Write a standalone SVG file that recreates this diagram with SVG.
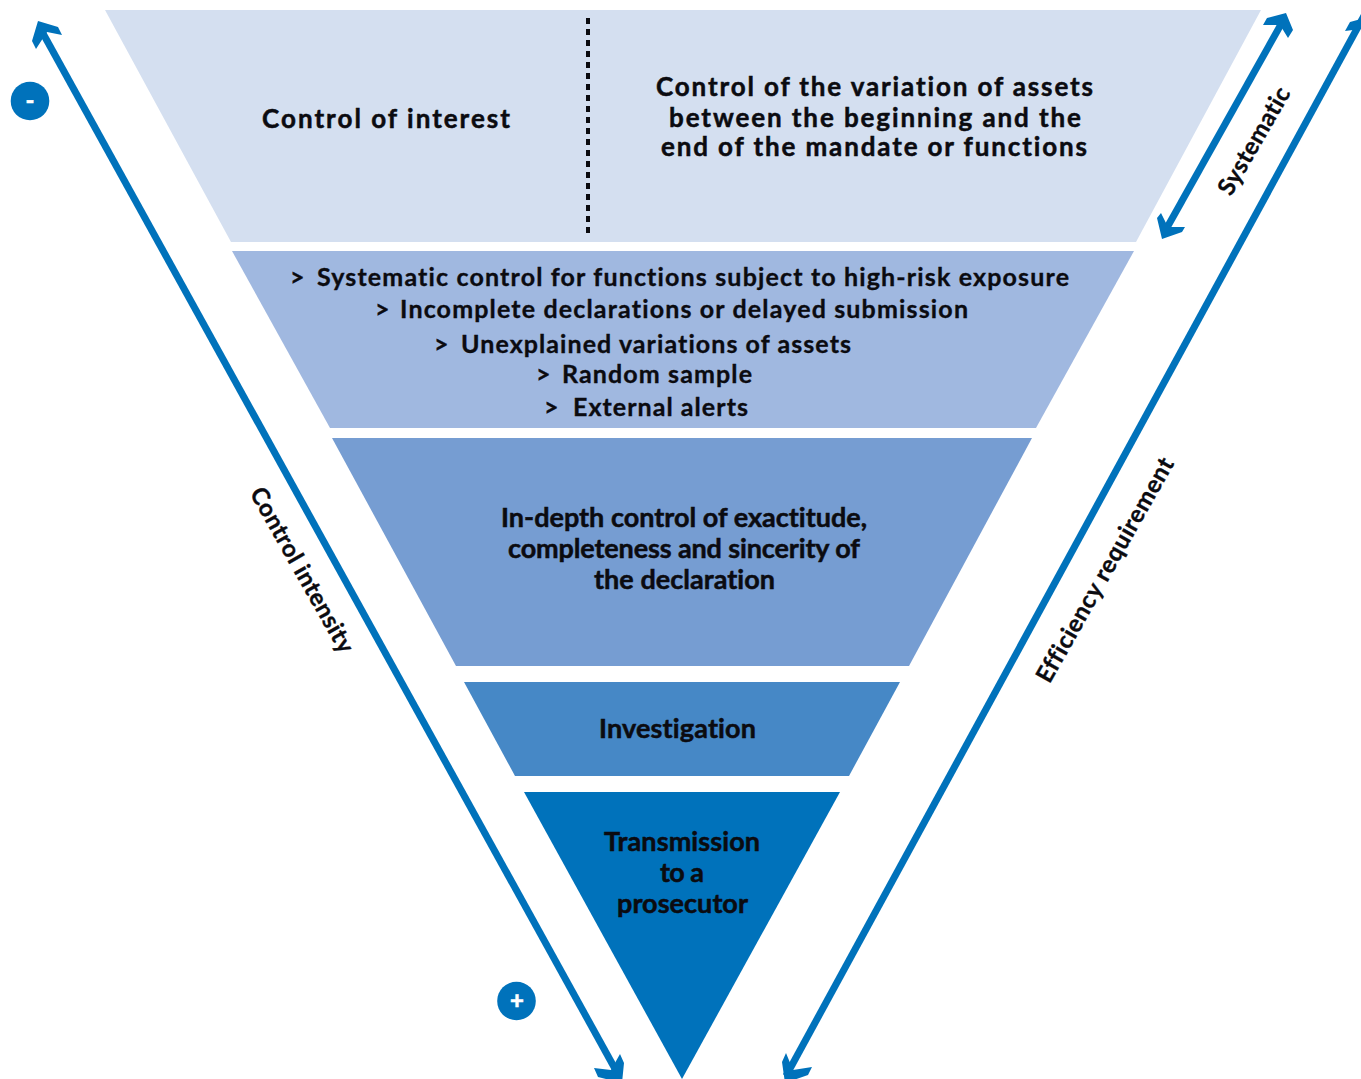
<svg xmlns="http://www.w3.org/2000/svg" width="1361" height="1079" viewBox="0 0 1361 1079">
<style>
text{font-family:Lato,"Liberation Sans",sans-serif;font-weight:700;font-size:26px;fill:#0b0b10;stroke:#0b0b10;stroke-width:.5px;font-variant-ligatures:none}
.t2{font-size:25px;stroke-width:.35px}
.m{font-size:27px}
.c{text-anchor:middle}
.l{fill:none;stroke:#0072bb;stroke-width:7}
.b{fill:#0072bb}
.r{font-size:24px;stroke-width:.35px}
.w{font-size:24px;font-weight:900;fill:#fff;stroke:#fff}
</style>
<rect width="1361" height="1079" fill="#fff"/>
<g id="tier-1"><polygon points="105,10 1261,10 1136,242 231,242" fill="#d4dff0"/>
<line x1="588" y1="18" x2="588" y2="235" stroke="#0b0b10" stroke-width="4" stroke-dasharray="6 5"/>
<text class="c" x="386" y="128" textLength="248" lengthAdjust="spacing">Control of interest</text>
<text class="c" x="874.500" y="96" textLength="437" lengthAdjust="spacing">Control of the variation of assets</text>
<text class="c" x="875" y="127" textLength="412" lengthAdjust="spacing">between the beginning and the</text>
<text class="c" x="874" y="156" textLength="426" lengthAdjust="spacing">end of the mandate or functions</text></g>
<g id="tier-2"><polygon points="232,251 1134,251 1036,428 330,428" fill="#a0b8e0"/>
<text class="t2" x="290" y="286">&gt;</text><text class="t2" x="317" y="286" textLength="752" lengthAdjust="spacing">Systematic control for functions subject to high-risk exposure</text>
<text class="t2" x="375" y="318">&gt;</text><text class="t2" x="400" y="318" textLength="568" lengthAdjust="spacing">Incomplete declarations or delayed submission</text>
<text class="t2" x="434" y="353">&gt;</text><text class="t2" x="461" y="353" textLength="390" lengthAdjust="spacing">Unexplained variations of assets</text>
<text class="t2" x="536" y="383">&gt;</text><text class="t2" x="562" y="383" textLength="190" lengthAdjust="spacing">Random sample</text>
<text class="t2" x="544" y="416">&gt;</text><text class="t2" x="573" y="416" textLength="175" lengthAdjust="spacing">External alerts</text></g>
<g id="tier-3"><polygon points="332,438 1032,438 909,666 456,666" fill="#769dd2"/>
<text class="c m" x="684" y="527" textLength="366" lengthAdjust="spacing">In-depth control of exactitude,</text>
<text class="c m" x="684" y="558" textLength="352" lengthAdjust="spacing">completeness and sincerity of</text>
<text class="c m" x="684.500" y="589" textLength="181" lengthAdjust="spacing">the declaration</text></g>
<g id="tier-4"><polygon points="464,682 900,682 849,776 515,776" fill="#4688c6"/>
<text class="c m" x="677.500" y="738" textLength="157" lengthAdjust="spacing">Investigation</text></g>
<g id="tier-5"><polygon points="524,792 840,792 682,1079" fill="#0072bb"/>
<text class="c m" x="682" y="851" textLength="156" lengthAdjust="spacing">Transmission</text>
<text class="c m" x="682" y="882" textLength="44" lengthAdjust="spacing">to a</text>
<text class="c m" x="682.500" y="913" textLength="131" lengthAdjust="spacing">prosecutor</text></g>
<g id="connectors">
<line class="l" x1="40" y1="28" x2="619" y2="1076"/>
<polygon class="b" points="38,21 58,27 62,35 47,32 36,49 32,41"/>
<polygon class="b" points="620,1054 624,1063 622,1083 598,1077 594,1068 611,1070"/>
<line class="l" x1="1284" y1="19" x2="1164" y2="233"/>
<polygon class="b" points="1286,13 1293,30 1288,38 1280,25 1263,25 1267,18"/>
<polygon class="b" points="1162,239 1157,218 1161,213 1168,227 1185,227 1182,232"/>
<line class="l" x1="1365" y1="14" x2="786" y2="1076"/>
<polygon class="b" points="1345,31 1350,22 1361,19 1361,29"/>
<polygon class="b" points="786,1053 782,1062 785,1083 808,1075 812,1067 793,1070"/>
</g>
<g id="minus"><circle class="b" cx="30" cy="101" r="19.300"/><text class="w c" x="30" y="109">-</text></g>
<g id="plus"><circle class="b" cx="516.500" cy="1001" r="19.300"/><text class="w c" x="517" y="1009">+</text></g>
<g id="labels">
<text class="c r" transform="translate(295 574) rotate(60.500)" textLength="186" lengthAdjust="spacing">Control intensity</text>
<text class="c r" transform="translate(1261 145) rotate(-60)" textLength="120" lengthAdjust="spacing">Systematic</text>
<text class="c r" transform="translate(1112 574) rotate(-60.500)" textLength="254" lengthAdjust="spacing">Efficiency requirement</text>
</g>
</svg>
